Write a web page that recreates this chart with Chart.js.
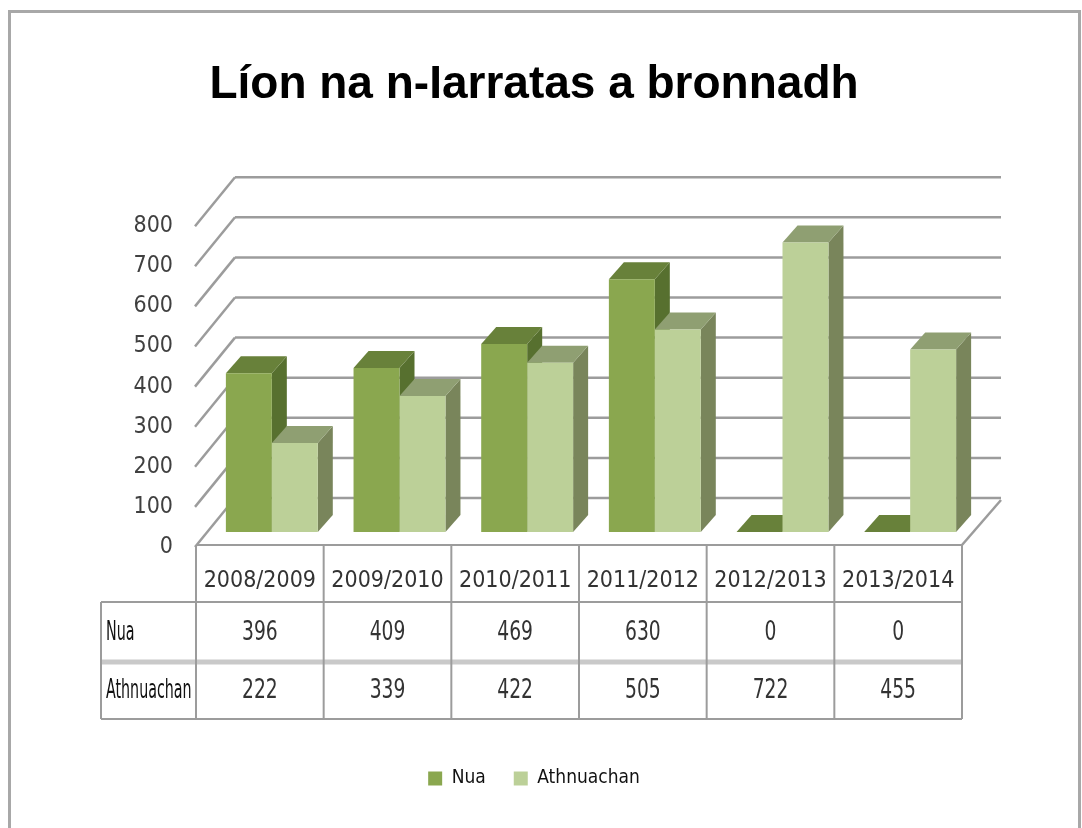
<!DOCTYPE html>
<html lang="ga">
<head>
<meta charset="UTF-8">
<title>Líon na n-Iarratas a bronnadh</title>
<script src="https://cdn.jsdelivr.net/npm/chart.js"></script>
<style>
  html, body { margin: 0; padding: 0; background: #fff; }
  #wrap { width: 1082px; height: 828px; }
</style>
</head>
<body>
<div id="wrap"><canvas id="chart" width="1082" height="828"></canvas></div>
<script>
// data
const categories = ['2008/2009', '2009/2010', '2010/2011', '2011/2012', '2012/2013', '2013/2014'];
const seriesNames = ['Nua', 'Athnuachan'];
const nuaValues = [396, 409, 469, 630, 0, 0];
const athnuachanValues = [222, 339, 422, 505, 722, 455];
const yTicks = [0, 100, 200, 300, 400, 500, 600, 700, 800];

const NARROW = "'DejaVu Sans Condensed', 'Liberation Sans', sans-serif";
const faces = [
  { front: '#8aa74f', top: '#68813a', side: '#57702f' },
  { front: '#bcd098', top: '#8f9f72', side: '#79855b' }
];
const lineGrey = '#9c9c9c';

// draws the 3D walls, floor and bar depth faces behind the bars
const depthPlugin = {
  id: 'depth3d',
  beforeDatasetsDraw(chart) {
    const ctx = chart.ctx, ca = chart.chartArea, y = chart.scales.y;
    const fl = ca.left - 13, fr = ca.right - 12;
    const bx = 40, by = -47;
    ctx.save();
    ctx.strokeStyle = lineGrey;
    ctx.lineWidth = 2.5;
    // floor right edge
    const fy = ca.bottom + 13;
    ctx.beginPath();
    ctx.moveTo(fr, fy);
    ctx.lineTo(fr + bx - 1, fy + by + 2);
    ctx.stroke();
    // back wall gridlines + side wall diagonals
    yTicks.forEach(v => {
      const py = y.getPixelForValue(v);
      ctx.beginPath();
      ctx.moveTo(fl + bx, py - 34);
      ctx.lineTo(fr + bx - 1, py - 34);
      ctx.stroke();
      ctx.beginPath();
      ctx.moveTo(fl, py + 15);
      ctx.lineTo(fl + bx, py - 34);
      ctx.stroke();
    });
    // bar depth: side and top faces
    const dx = 15, dy = -17;
    const n = chart.data.labels.length;
    for (let i = 0; i < n; i++) {
      chart.data.datasets.forEach((ds, d) => {
        const bar = chart.getDatasetMeta(d).data[i];
        const p = bar.getProps(['x', 'y', 'base', 'width'], true);
        const l = p.x - p.width / 2, r = p.x + p.width / 2;
        ctx.fillStyle = faces[d].side;
        ctx.beginPath();
        ctx.moveTo(r, p.y); ctx.lineTo(r + dx, p.y + dy);
        ctx.lineTo(r + dx, p.base + dy); ctx.lineTo(r, p.base);
        ctx.closePath(); ctx.fill();
        ctx.fillStyle = faces[d].top;
        ctx.beginPath();
        ctx.moveTo(l, p.y); ctx.lineTo(r, p.y);
        ctx.lineTo(r + dx, p.y + dy); ctx.lineTo(l + dx, p.y + dy);
        ctx.closePath(); ctx.fill();
      });
    }
    ctx.restore();
  },
  afterDraw(chart) {
    const ctx = chart.ctx, ca = chart.chartArea, x = chart.scales.x;
    const colW = (ca.right - ca.left) / categories.length;
    const tl = ca.left - 12, tr = ca.right - 12, rowL = 101;
    const top = ca.bottom + 13, h1 = top + 57, h2 = h1 + 60, h3 = h2 + 57;
    ctx.save();
    ctx.strokeStyle = lineGrey;
    ctx.lineWidth = 2;
    const line = (x1, y1, x2, y2) => { ctx.beginPath(); ctx.moveTo(x1, y1); ctx.lineTo(x2, y2); ctx.stroke(); };
    line(tl, top, tr, top);
    line(rowL, h1, tr, h1);
    ctx.strokeStyle = '#c9c9c9'; ctx.lineWidth = 5;
    line(rowL, h2, tr, h2);
    ctx.strokeStyle = lineGrey; ctx.lineWidth = 2;
    line(rowL, h3, tr, h3);
    line(rowL, h1, rowL, h3);
    for (let i = 0; i <= categories.length; i++) {
      const cx = tl + i * colW;
      line(cx, top, cx, h3);
    }
    // row values
    const rows = [nuaValues, athnuachanValues];
    const rowMid = [(h1 + h2) / 2, (h2 + h3) / 2];
    ctx.textBaseline = 'middle';
    rows.forEach((vals, r) => {
      vals.forEach((v, i) => {
        ctx.save();
        ctx.translate(x.getPixelForValue(i) - 12, rowMid[r] + 1);
        ctx.scale(0.8, 1);
        ctx.textAlign = 'center';
        ctx.font = '26px ' + NARROW;
        ctx.fillStyle = '#333';
        ctx.fillText(String(v), 0, 0);
        ctx.restore();
      });
      ctx.save();
      ctx.translate(rowL + 5, rowMid[r] + 1);
      ctx.scale(0.61, 1);
      ctx.textAlign = 'left';
      ctx.font = '26px ' + NARROW;
      ctx.fillStyle = '#111';
      ctx.fillText(seriesNames[r], 0, 0);
      ctx.restore();
    });
    // outer frame
    ctx.strokeStyle = '#a8a8a8';
    ctx.lineWidth = 3;
    ctx.strokeRect(9.5, 11.5, 1070, 840);
    ctx.restore();
  }
};

new Chart(document.getElementById('chart'), {
  type: 'bar',
  data: {
    labels: categories,
    datasets: [
      { label: seriesNames[0], data: nuaValues, backgroundColor: faces[0].front, borderWidth: 0 },
      { label: seriesNames[1], data: athnuachanValues, backgroundColor: faces[1].front, borderWidth: 0 }
    ]
  },
  options: {
    responsive: false,
    animation: false,
    devicePixelRatio: 1,
    datasets: { bar: { categoryPercentage: 0.72, barPercentage: 1.0 } },
    layout: { padding: { left: 0, right: 14, top: 0, bottom: 30 } },
    scales: {
      x: {
        grid: { display: false },
        border: { display: false },
        ticks: { font: { family: NARROW, size: 23 }, color: '#333', padding: 27, labelOffset: -12, maxRotation: 0, autoSkip: false },
        afterFit(scale) { scale.height = 209; }
      },
      y: {
        min: 0, max: 800,
        grid: { display: false, drawTicks: false },
        border: { display: false },
        ticks: { stepSize: 100, font: { family: NARROW, size: 23 }, color: '#404040', padding: 35, labelOffset: 15 },
        afterFit(scale) { scale.width = 208; }
      },
      y2: {
        position: 'right',
        min: 0, max: 800,
        grid: { display: false, drawTicks: false },
        border: { display: false },
        ticks: { display: false },
        afterFit(scale) { scale.width = 94; }
      }
    },
    plugins: {
      title: {
        display: true,
        text: 'Líon na n-Iarratas a bronnadh',
        color: '#000',
        font: { family: "'Liberation Sans', Arial, sans-serif", size: 46, weight: 'bold' },
        padding: { top: 58, bottom: 98 }
      },
      legend: {
        position: 'bottom',
        labels: { boxWidth: 14, boxHeight: 14, padding: 28, color: '#111', font: { family: NARROW, size: 19 } }
      },
      tooltip: { enabled: false }
    }
  },
  plugins: [depthPlugin]
});
</script>
</body>
</html>
